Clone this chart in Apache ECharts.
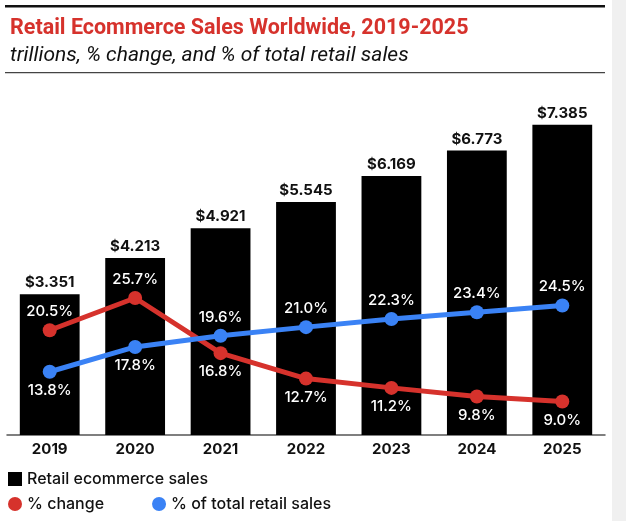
<!DOCTYPE html>
<html><head><meta charset="utf-8">
<script src="https://cdn.jsdelivr.net/npm/echarts@6/dist/echarts.min.js"></script>
<style>html,body{margin:0;padding:0;background:#fff}#c{width:626px;height:521px}</style>
</head><body><div id="c"></div>
<script>
const years = ['2019','2020','2021','2022','2023','2024','2025'];
const sales = [3.351, 4.213, 4.921, 5.545, 6.169, 6.773, 7.385];
const pctChange = [20.5, 25.7, 16.8, 12.7, 11.2, 9.8, 9.0];
const pctTotal = [13.8, 17.8, 19.6, 21.0, 22.3, 23.4, 24.5];
const changeLabelPos = ['top','top','bottom','bottom','bottom','bottom','bottom'];
const totalLabelPos = ['bottom','bottom','top','top','top','top','top'];

const RED = '#d6322c', BLUE = '#3a82f5';
const FONT = 'Inter';
const chart = echarts.init(document.getElementById('c'));
function pts(vals, pos) {
  return vals.map((v, i) => ({ value: v, label: { position: pos[i] } }));
}
chart.setOption({
  animation: false,
  textStyle: { fontFamily: FONT },
  graphic: [
    { type: 'rect', shape: { x: 612, y: 0, width: 14, height: 521 }, style: { fill: '#f0f0f0' } },
    { type: 'rect', shape: { x: 5, y: 5, width: 600, height: 2.5 }, style: { fill: '#111' } },
    { type: 'rect', shape: { x: 5, y: 72, width: 600, height: 1.2 }, style: { fill: '#444' } }
  ],
  title: {
    text: 'Retail Ecommerce Sales Worldwide, 2019-2025',
    subtext: 'trillions, % change, and % of total retail sales',
    left: 5, top: 13, itemGap: 5,
    textStyle: { color: RED, fontSize: 21.5, fontWeight: 'bold', fontFamily: 'Roboto' },
    subtextStyle: { color: '#111', fontSize: 21, fontStyle: 'italic', fontFamily: 'Roboto' }
  },
  legend: [
    { data: ['Retail ecommerce sales'], left: 8, top: 471, padding: 0, icon: 'rect', itemWidth: 14, itemHeight: 14,
      itemGap: 5, textStyle: { fontSize: 16, fontWeight: 500, color: '#111', fontFamily: FONT } },
    { data: ['% change', '% of total retail sales'], left: 8, top: 496, padding: 0, icon: 'circle', itemWidth: 14, itemHeight: 14,
      itemGap: 48, textStyle: { fontSize: 16, fontWeight: 500, color: '#111', fontFamily: FONT } }
  ],
  grid: { left: 7, right: 21, top: 99, bottom: 86, containLabel: false },
  xAxis: {
    type: 'category', data: years,
    axisLine: { lineStyle: { color: '#555', width: 1.5 } },
    axisTick: { show: false },
    axisLabel: { color: '#111', fontSize: 15, fontWeight: 'bold', margin: 7, fontFamily: FONT }
  },
  yAxis: [
    { type: 'value', min: 0, max: 8, show: false, splitLine: { show: false } },
    { type: 'value', min: 3.6, max: 57.8, show: false, splitLine: { show: false } }
  ],
  series: [
    { name: 'Retail ecommerce sales', type: 'bar', data: sales, barWidth: '70%',
      itemStyle: { color: '#000' },
      label: { show: true, position: 'top', distance: 4, color: '#111', fontSize: 15, fontWeight: 'bold',
        fontFamily: FONT, formatter: p => '$' + p.value.toFixed(3) } },
    { name: '% change', type: 'line', yAxisIndex: 1, data: pts(pctChange, changeLabelPos),
      symbol: 'circle', symbolSize: 14, lineStyle: { color: RED, width: 5 }, itemStyle: { color: RED },
      z: 3,
      label: { show: true, distance: 4, color: '#fff', fontSize: 15, fontWeight: 500, fontFamily: FONT,
        formatter: p => p.value.toFixed(1) + '%' } },
    { name: '% of total retail sales', type: 'line', yAxisIndex: 1, data: pts(pctTotal, totalLabelPos),
      symbol: 'circle', symbolSize: 14, lineStyle: { color: BLUE, width: 5 }, itemStyle: { color: BLUE },
      z: 4,
      label: { show: true, distance: 4, color: '#fff', fontSize: 15, fontWeight: 500, fontFamily: FONT,
        formatter: p => p.value.toFixed(1) + '%' } }
  ]
});
</script></body></html>
